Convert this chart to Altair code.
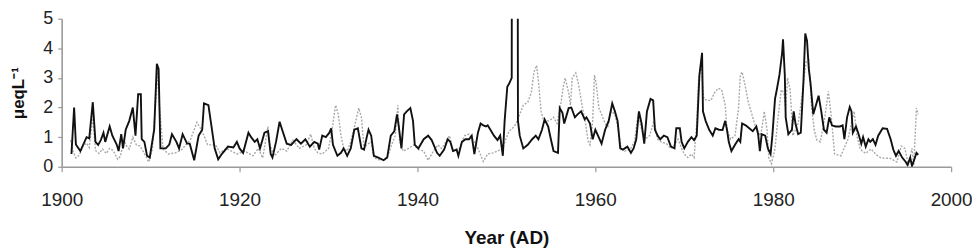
import altair as alt
import pandas as pd

# Black (solid) series
black_year = [
    1901.1, 1901.4, 1901.6, 1902.1, 1902.8, 1903.1, 1903.5, 1903.8, 1904.1, 1904.4,
    1904.7, 1904.9, 1905.4, 1905.7, 1906.2, 1906.4, 1906.7, 1906.9, 1907.2, 1907.6,
    1908.0, 1908.3, 1908.6, 1908.9, 1909.0, 1909.3, 1909.6, 1909.9, 1910.4, 1910.7,
    1910.9, 1911.1, 1911.7, 1912.1, 1912.4, 1912.9, 1913.2, 1913.6, 1914.1, 1914.4,
    1914.9, 1915.4, 1915.8, 1916.0, 1916.5, 1916.8, 1917.2, 1917.6, 1918.0, 1918.7,
    1919.3, 1919.7, 1920.0, 1920.4, 1921.0, 1921.3, 1921.7, 1922.0, 1922.3, 1922.8,
    1923.2, 1923.5, 1923.7, 1924.1, 1924.5, 1924.9, 1925.3, 1925.8, 1926.4, 1926.9,
    1927.4, 1927.9, 1928.4, 1928.8, 1928.95, 1929.3, 1929.7, 1930.1, 1930.3, 1930.5,
    1931.0, 1931.4, 1931.7, 1932.1, 1932.5, 1932.9, 1933.3, 1933.7, 1934.0, 1934.3,
    1934.5, 1934.8, 1935.1, 1935.6, 1936.2, 1936.6, 1937.0, 1937.4, 1937.7, 1937.9,
    1938.2, 1938.5, 1938.8, 1939.2, 1939.5, 1939.7, 1940.1, 1940.7, 1941.2, 1941.6,
    1942.2, 1942.5, 1943.0, 1943.4, 1943.7, 1944.0, 1944.4, 1944.6, 1945.0, 1945.4,
    1945.8, 1946.1, 1946.4, 1946.8, 1947.1, 1947.4, 1947.7, 1947.9, 1948.3, 1948.6,
    1949.0, 1949.3, 1949.6, 1949.8, 1950.1, 1950.3, 1950.6, 1950.65, 1951.2, 1951.3,
    1951.5, 1951.9, 1952.4, 1952.9, 1953.3, 1953.6, 1954.0, 1954.3, 1954.7, 1955.0,
    1955.3, 1955.8, 1956.0, 1956.3, 1956.5, 1957.0, 1957.3, 1957.7, 1958.0, 1958.4,
    1958.8, 1959.0, 1959.4, 1959.7, 1960.0, 1960.3, 1960.7, 1961.1, 1961.5, 1961.9,
    1962.2, 1962.5, 1962.8, 1963.1, 1963.6, 1964.0, 1964.3, 1964.6, 1964.9, 1965.2,
    1965.5, 1965.8, 1966.2, 1966.5, 1966.7, 1967.0, 1967.3, 1967.7, 1968.1, 1968.5,
    1968.9, 1969.1, 1969.5, 1969.7, 1970.0, 1970.4, 1970.8, 1971.1, 1971.4, 1971.7,
    1972.0, 1972.1, 1972.4, 1972.8, 1973.2, 1973.5, 1973.9, 1974.3, 1974.6, 1974.8,
    1975.0, 1975.3, 1975.7, 1976.1, 1976.3, 1976.5, 1976.9, 1977.3, 1977.7, 1978.1,
    1978.3, 1978.5, 1978.7, 1979.1, 1979.4, 1979.7, 1979.9, 1980.2, 1980.4, 1980.7,
    1981.0, 1981.1, 1981.3, 1981.4, 1981.7, 1982.1, 1982.3, 1982.5, 1982.8, 1983.1,
    1983.4, 1983.6, 1983.8, 1984.0, 1984.2, 1984.5, 1984.8, 1985.1, 1985.4, 1985.7,
    1986.0, 1986.3, 1986.6, 1987.0, 1987.5, 1987.8, 1988.0, 1988.3, 1988.6, 1988.8,
    1988.95, 1989.3, 1989.6, 1989.9, 1990.1, 1990.4, 1990.7, 1990.9, 1991.2, 1991.5,
    1991.8, 1992.3, 1992.8, 1993.2, 1993.5, 1993.8, 1994.1, 1994.5, 1994.9, 1995.1,
    1995.4, 1995.6, 1995.9, 1996.1, 1996.3,
]
black_val = [
    0.43, 2.0, 0.75, 0.53, 1.0, 0.96, 2.18, 0.84, 0.74, 0.9,
    1.15, 0.84, 1.36, 1.05, 0.74, 0.53, 1.1, 0.62, 1.25, 1.55,
    2.0, 1.05, 2.45, 2.45, 0.93, 0.84, 0.37, 0.31, 1.25, 3.48,
    3.3, 0.62, 0.62, 0.75, 1.1, 0.84, 0.62, 1.1, 0.78, 0.78,
    0.22, 1.05, 1.25, 2.14, 2.08, 1.46, 0.62, 0.25, 0.43, 0.68,
    0.65, 0.84, 0.62, 0.47, 1.15, 1.0, 0.84, 0.93, 0.62, 1.15,
    1.2, 0.43, 0.31, 0.84, 1.52, 1.15, 0.78, 0.74, 0.93, 0.78,
    0.93, 0.68, 0.84, 0.78, 0.58, 1.05, 1.0, 1.15, 1.3, 0.74,
    0.37, 0.47, 0.62, 0.37, 0.62, 1.25, 1.3, 0.62, 0.58, 1.0,
    1.25, 1.05, 0.37, 0.31, 0.22, 0.31, 1.05, 1.2, 1.77, 1.36,
    0.62, 1.77, 1.87, 1.98, 1.55, 0.74, 0.62, 0.93, 1.05, 0.9,
    0.47, 0.37, 0.58, 0.93, 0.84, 0.53, 0.58, 0.37, 0.84, 0.93,
    0.93, 1.05, 0.43, 1.15, 1.46, 1.4, 1.36, 1.4, 1.2, 1.05,
    0.9, 1.05, 0.37, 1.55, 2.7, 2.8, 3.0, 20.0, 20.0, 1.55,
    1.05, 0.62, 0.74, 0.93, 1.05, 0.93, 1.25, 1.6, 1.36, 0.93,
    0.53, 0.47, 1.98, 1.82, 1.46, 1.98, 2.0, 1.67, 1.77, 1.87,
    1.6, 1.67, 1.46, 0.93, 1.25, 1.05, 0.78, 1.25, 1.55, 2.14,
    1.87, 1.55, 0.62, 0.58, 0.68, 0.47, 0.62, 0.93, 1.87, 1.46,
    0.78, 1.87, 2.29, 2.24, 1.25, 1.05, 0.93, 1.05, 1.0, 0.68,
    0.62, 1.3, 1.3, 0.84, 0.62, 0.84, 1.0, 0.9, 1.05, 3.1,
    3.85, 1.87, 1.55, 1.25, 1.05, 1.3, 1.25, 1.24, 1.55, 1.25,
    0.84, 0.53, 0.74, 0.93, 0.84, 1.46, 1.4, 1.3, 1.2, 1.36,
    1.1, 0.53, 1.1, 1.05, 0.62, 0.43, 1.05, 2.29, 2.6, 3.1,
    3.85, 4.3, 3.1, 1.67, 1.1, 1.25, 1.87, 1.46, 1.1, 1.15,
    2.9, 4.5, 4.25, 3.3, 2.8, 1.77, 2.08, 2.4, 1.87, 1.25,
    1.15, 1.67, 1.4, 1.36, 1.36, 1.4, 0.93, 1.67, 2.02, 1.87,
    1.15, 1.36, 1.1, 0.78, 1.0, 0.68, 0.93, 0.84, 0.93, 0.74,
    1.05, 1.3, 1.28, 0.93, 0.58, 0.37, 0.53, 0.31, 0.16, 0.06,
    0.31, 0.03, 0.28, 0.47, 0.4,
]

# Grey (dotted) series
grey_year = [
    1901.0, 1901.3, 1901.6, 1902.0, 1902.4, 1902.8, 1903.1, 1903.5, 1903.8, 1904.2,
    1904.6, 1905.0, 1905.4, 1905.8, 1906.3, 1906.6, 1907.0, 1907.3, 1907.6, 1908.0,
    1908.4, 1908.8, 1909.2, 1909.8, 1910.2, 1910.5, 1910.8, 1911.0, 1911.4, 1912.0,
    1912.8, 1913.5, 1914.5, 1915.2, 1915.6, 1916.0, 1916.4, 1917.3, 1917.8, 1918.5,
    1919.7, 1920.6, 1921.5, 1922.1, 1922.6, 1923.2, 1923.4, 1923.9, 1924.7, 1925.3,
    1926.0, 1926.7, 1927.5, 1928.0, 1928.4, 1928.8, 1929.3, 1930.0, 1930.4, 1930.8,
    1931.1, 1931.4, 1931.7, 1932.1, 1932.5, 1933.0, 1933.4, 1933.7, 1934.0, 1934.3,
    1934.8, 1935.1, 1935.8, 1936.6, 1937.1, 1937.5, 1937.8, 1938.0, 1938.4, 1939.0,
    1939.6, 1940.1, 1940.7, 1941.2, 1941.8, 1942.3, 1942.7, 1943.0, 1943.6, 1944.0,
    1944.7, 1945.3, 1945.8, 1946.4, 1946.8, 1947.4, 1947.9, 1948.5, 1949.0, 1949.6,
    1949.9, 1950.3, 1950.7, 1951.1, 1951.5, 1951.9, 1952.4, 1952.8, 1953.1, 1953.4,
    1953.6, 1953.9, 1954.2, 1954.8, 1955.3, 1955.7, 1956.1, 1956.4, 1956.6, 1957.0,
    1957.2, 1957.4, 1957.8, 1958.1, 1958.5, 1958.9, 1959.2, 1959.4, 1959.7, 1959.9,
    1960.1, 1960.4, 1960.7, 1961.1, 1961.4, 1961.8, 1962.2, 1962.6, 1962.9, 1963.3,
    1963.9, 1964.4, 1964.8, 1965.2, 1965.6, 1966.1, 1966.6, 1967.0, 1967.4, 1968.0,
    1968.5, 1968.9, 1969.3, 1969.7, 1970.0, 1970.4, 1970.8, 1971.1, 1971.4, 1971.6,
    1971.9, 1972.1, 1972.2, 1972.6, 1973.0, 1973.4, 1973.8, 1974.2, 1974.6, 1974.8,
    1975.2, 1975.7, 1976.1, 1976.3, 1976.5, 1976.8, 1977.2, 1977.6, 1978.0, 1978.5,
    1978.7, 1979.0, 1979.3, 1979.5, 1979.8, 1980.2, 1980.5, 1980.9, 1981.2, 1981.4,
    1981.6, 1981.9, 1982.2, 1982.5, 1982.8, 1983.2, 1983.5, 1983.7, 1984.0, 1984.3,
    1984.6, 1984.9, 1985.3, 1985.8, 1986.2, 1986.5, 1986.9, 1987.6, 1988.4, 1989.1,
    1989.4, 1989.8, 1990.4, 1991.0, 1991.6, 1992.1, 1993.2, 1993.9, 1994.4, 1994.8,
    1995.2, 1995.6, 1995.8, 1996.1, 1996.3,
]
grey_val = [
    0.9, 0.5, 0.3, 0.4, 0.7, 0.8, 0.65, 1.7, 0.55, 0.45,
    0.6, 0.45, 0.62, 0.55, 0.25, 0.35, 0.9, 0.7, 0.6, 1.0,
    0.74, 0.7, 0.5, 0.16, 0.6, 1.87, 3.2, 2.0, 0.6, 0.43,
    0.47, 0.58, 0.93, 1.5, 1.3, 1.05, 0.74, 0.74, 0.47, 0.62,
    0.43, 0.53, 0.37, 0.62, 0.3, 1.36, 0.74, 0.37, 0.62, 0.53,
    0.9, 0.62, 0.74, 1.1, 0.62, 0.47, 0.43, 0.62, 1.25, 2.08,
    1.77, 1.05, 0.62, 0.53, 0.84, 1.46, 1.98, 1.67, 0.62, 0.74,
    0.84, 0.31, 0.22, 0.31, 0.74, 1.05, 2.08, 0.84, 0.53, 0.62,
    0.74, 0.58, 0.53, 0.22, 0.53, 0.74, 0.62, 0.74, 1.05, 0.53,
    0.62, 1.05, 1.1, 0.84, 0.62, 0.18, 0.43, 0.47, 0.53, 0.62,
    0.9, 1.2, 1.3, 1.46, 1.77, 2.08, 2.18, 2.5, 3.2, 3.42,
    2.9, 1.87, 1.55, 1.55, 1.67, 1.46, 2.08, 2.7, 3.0, 2.5,
    2.08, 3.0, 3.17, 2.8, 2.08, 1.46, 0.84, 0.74, 1.55, 3.1,
    2.8, 1.98, 1.77, 1.46, 1.36, 1.87, 1.77, 1.25, 0.62, 0.53,
    0.58, 0.84, 1.77, 1.25, 0.93, 1.05, 1.55, 0.93, 0.84, 0.78,
    0.62, 0.74, 0.93, 0.62, 0.43, 0.31, 0.43, 0.31, 1.5, 2.9,
    3.5, 2.6, 2.29, 2.24, 2.24, 2.5, 2.65, 2.6, 2.08, 1.25,
    0.93, 1.05, 1.98, 3.1, 3.2, 2.8, 2.18, 1.77, 1.36, 1.05,
    1.25, 1.87, 1.25, 0.3, 0.1, 0.62, 1.55, 2.6, 2.5, 1.98,
    3.0, 2.6, 1.05, 1.25, 1.46, 2.29, 3.1, 3.53, 3.6, 2.08,
    1.25, 0.9, 0.84, 1.67, 2.55, 1.77, 0.43, 0.37, 0.93, 1.87,
    1.05, 0.58, 0.45, 0.6, 0.4, 0.3, 0.28, 0.16, 0.7, 0.62,
    0.06, 0.62, 0.06, 1.98, 1.77,
]

x_ticks = [1900, 1920, 1940, 1960, 1980, 2000]
y_ticks = [0, 1, 2, 3, 4, 5]

black_df = pd.DataFrame({"year": black_year, "value": black_val})
grey_df = pd.DataFrame({"year": grey_year, "value": grey_val})

FONT = "Liberation Sans"

x_enc = alt.X(
    "year:Q",
    scale=alt.Scale(domain=[1900, 2000], nice=False, zero=False),
    axis=alt.Axis(
        values=x_ticks, format="d", title="Year (AD)",
        labelFontSize=19, labelPadding=19, tickSize=5,
        labelFlush=False, labelOverlap=False,
        titleFontSize=19, titleFontWeight="bold", titleY=71, titleBaseline="middle",
    ),
)
y_enc = alt.Y(
    "value:Q",
    scale=alt.Scale(domain=[0, 5], nice=False),
    axis=alt.Axis(
        values=y_ticks, tickCount=6, title="μeqL⁻¹",
        labelFontSize=18, labelPadding=5, tickSize=4,
        labelFlush=False, labelOverlap=False, labelBound=False,
        titleFontSize=17, titleFontWeight="bold", titleX=-43, titleBaseline="middle",
    ),
)

grey = alt.Chart(grey_df).mark_line(
    color="#a8a8a8", strokeWidth=1.4, strokeDash=[2, 1.5], clip=True
).encode(x=x_enc, y=y_enc)

black = alt.Chart(black_df).mark_line(
    color="#111111", strokeWidth=1.9, clip=True
).encode(x=x_enc, y=y_enc)

chart = (
    alt.layer(grey, black)
    .properties(
        width=895, height=149,
        padding={"left": 54, "top": 10, "right": 21, "bottom": 82},
        autosize=alt.AutoSizeParams(type="none"),
    )
    .configure_view(stroke=None)
    .configure_axis(
        grid=False, labelFont=FONT, titleFont=FONT, labelColor="#222222",
        titleColor="#111111", domainColor="#9a9a9a", domainWidth=1.6,
        tickColor="#9a9a9a", tickWidth=1.2,
    )
)

chart.save("out.html", embed_options={"renderer": "svg", "actions": False})
